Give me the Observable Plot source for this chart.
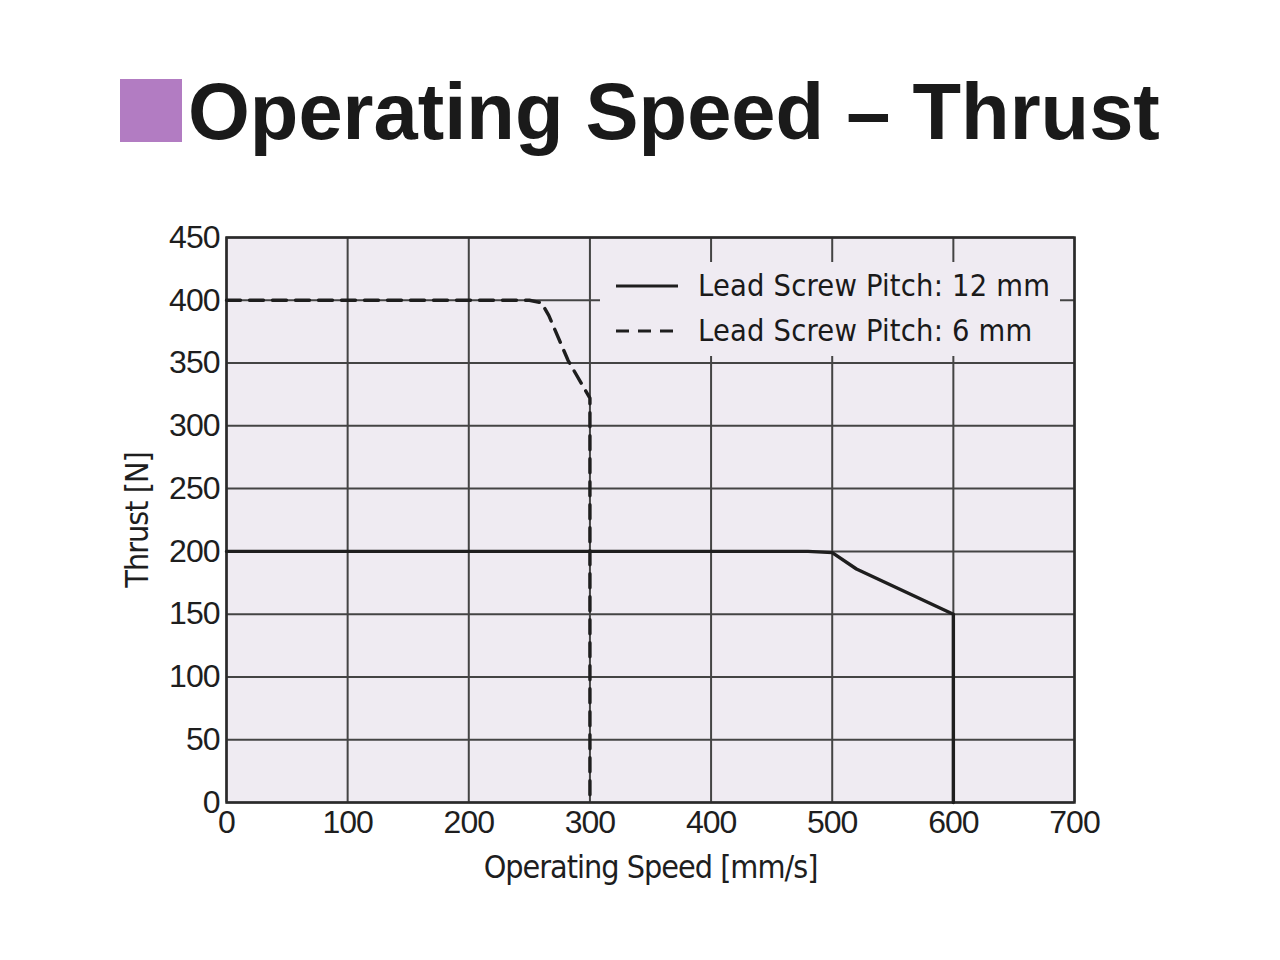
<!DOCTYPE html>
<html>
<head>
<meta charset="utf-8">
<script src="https://cdn.jsdelivr.net/npm/d3@7"></script>
<script src="https://cdn.jsdelivr.net/npm/@observablehq/plot@0.6"></script>
<style>
  body { margin: 0; background: #fff; width: 1280px; height: 960px; position: relative; overflow: hidden; font-family: "Liberation Sans", Arial, sans-serif; }
  #title { position: absolute; left: 120px; top: 70px; height: 80px; display: flex; align-items: center; }
  #title .sq { width: 62px; height: 63px; background: #b27cc2; margin-right: 6px; }
  #title .tx { font-family: "Liberation Sans", Arial, sans-serif; font-weight: bold; font-size: 79.5px; color: #1a1a1a; letter-spacing: 0px; line-height: 80px; margin-top: 4px; }
  #chart { position: absolute; left: 0; top: 180px; }
  #legend { position: absolute; left: 600px; top: 262px; width: 460px; height: 94px; background: #efebf2; font-family: "DejaVu Sans Condensed", "Liberation Sans Narrow", "Liberation Sans", sans-serif; font-size: 30.5px; color: #1a1a1a; letter-spacing: 0.2px; }
  #legend .row { position: absolute; left: 16px; display: flex; align-items: center; }
  #legend svg { margin-right: 20px; }
</style>
</head>
<body>
<div id="title"><div class="sq"></div><div class="tx">Operating Speed – Thrust</div></div>
<div id="chart"></div>
<div id="legend"></div>
<script>
const seriesNames = ["Lead Screw Pitch: 12 mm", "Lead Screw Pitch: 6 mm"];
const pitch12Speed = [0, 480, 500, 520, 600, 600];
const pitch12Thrust = [200, 200, 199, 186, 150, 0];
const pitch6Speed = [0, 250, 260, 266, 282, 300, 300];
const pitch6Thrust = [400, 400, 398, 388, 352, 322, 0];
const xTicks = [0, 100, 200, 300, 400, 500, 600, 700];
const yTicks = [0, 50, 100, 150, 200, 250, 300, 350, 400, 450];

const data12 = pitch12Speed.map((s, i) => ({speed: s, thrust: pitch12Thrust[i]}));
const data6 = pitch6Speed.map((s, i) => ({speed: s, thrust: pitch6Thrust[i]}));

const ink = "#1e1e1e";
const condensed = "'DejaVu Sans Condensed', 'Liberation Sans Narrow', sans-serif";
const plot = Plot.plot({
  width: 1280,
  height: 780,
  marginLeft: 226,
  marginRight: 206,
  marginTop: 57,
  marginBottom: 158,
  style: { fontFamily: "'Liberation Sans', Arial, sans-serif", fontSize: "31px", color: ink, background: "transparent", letterSpacing: "-1px" },
  x: { domain: [0, 700], ticks: xTicks, tickSize: 0, tickPadding: 10, label: null },
  y: { domain: [0, 450], ticks: yTicks, tickSize: 0, tickPadding: 8, label: null },
  marks: [
    Plot.frame({ fill: "#efebf2", stroke: null }),
    Plot.gridX(xTicks, { stroke: "#444", strokeOpacity: 1, strokeWidth: 2 }),
    Plot.gridY(yTicks, { stroke: "#444", strokeOpacity: 1, strokeWidth: 2 }),
    Plot.frame({ stroke: "#2a2a2a", strokeWidth: 2.5 }),
    Plot.line(data12, { x: "speed", y: "thrust", stroke: ink, strokeWidth: 3.4 }),
    Plot.line(data6, { x: "speed", y: "thrust", stroke: ink, strokeWidth: 3.4, strokeDasharray: "14,9" }),
    Plot.axisX({ ticks: xTicks, tickSize: 0, tickPadding: 8, fontSize: 32, fontWeight: 500 }),
    Plot.axisY({ ticks: yTicks, tickSize: 0, tickPadding: 7, fontSize: 32, fontWeight: 500 }),
    Plot.text(["Operating Speed [mm/s]"], { frameAnchor: "bottom", dy: 75, fontSize: 32, fontFamily: condensed, fill: ink }),
    Plot.text(["Thrust [N]"], { frameAnchor: "left", textAnchor: "middle", dx: -89, rotate: -90, fontSize: 32, fontFamily: condensed, fill: ink })
  ]
});
document.getElementById("chart").append(plot);

const legend = document.getElementById("legend");
seriesNames.forEach((name, i) => {
  const row = document.createElement("div");
  row.className = "row";
  row.style.top = (i === 0 ? 6 : 51) + "px";
  const dash = i === 0 ? "" : "stroke-dasharray='13,9'";
  row.innerHTML = `<svg width="62" height="10"><line x1="0" y1="5" x2="62" y2="5" stroke="${ink}" stroke-width="3.2" ${dash}/></svg><span>${name}</span>`;
  legend.append(row);
});
</script>
</body>
</html>
